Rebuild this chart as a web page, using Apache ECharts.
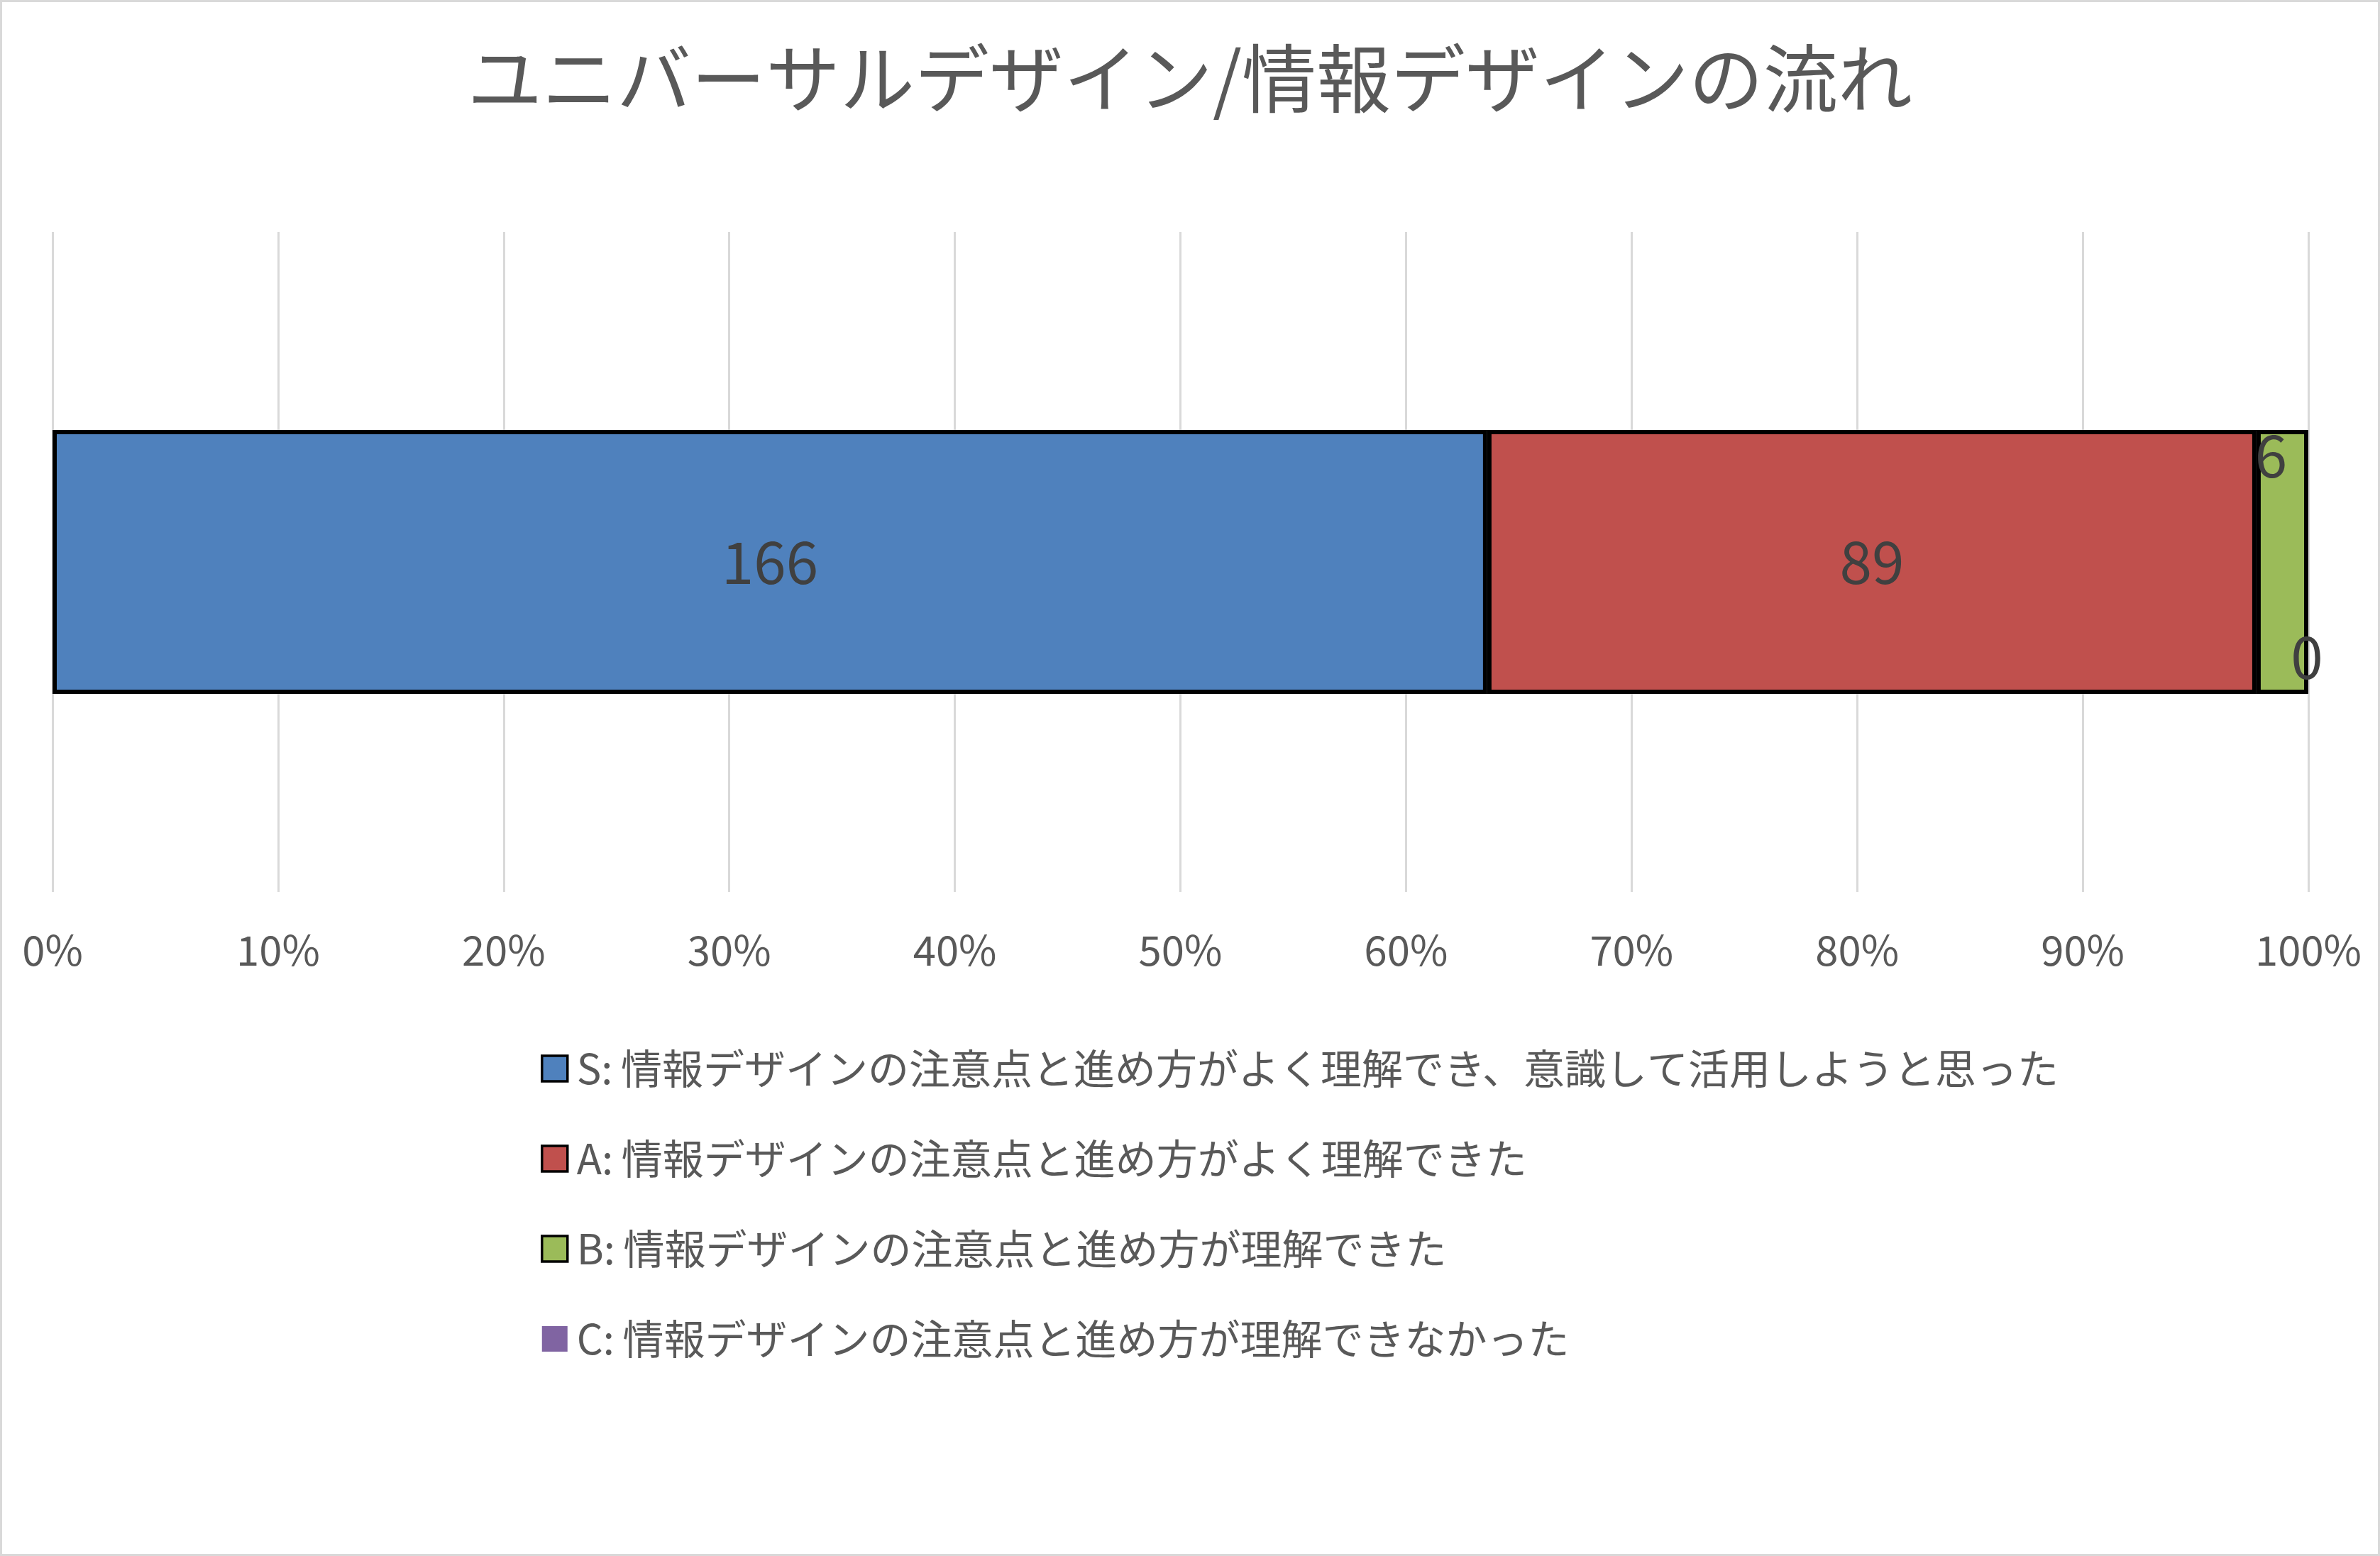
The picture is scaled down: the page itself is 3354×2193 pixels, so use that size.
<!DOCTYPE html>
<html>
<head>
<meta charset="utf-8">
<script src="https://cdn.jsdelivr.net/npm/echarts@6/dist/echarts.min.js"></script>
<style>
html,body{margin:0;padding:0;background:#fff;}
#c{width:3354px;height:2193px;}
</style>
</head>
<body>
<div id="c"></div>
<script>
const titleText = 'ユニバーサルデザイン/情報デザインの流れ';
const categories = ['回答'];
const seriesNames = [
  'S:\u2009情報デザインの注意点と進め方がよく理解でき、意識して活用しようと思った',
  'A:\u2009情報デザインの注意点と進め方がよく理解できた',
  'B:\u2009情報デザインの注意点と進め方が理解できた',
  'C:\u2009情報デザインの注意点と進め方が理解できなかった'
];
const seriesValues = [166, 89, 6, 0];
const seriesColors = ['#4f81bd', '#c0504d', '#9bbb59', '#8064a2'];
const tickLabels = ['0%','10%','20%','30%','40%','50%','60%','70%','80%','90%','100%'];
const labelOffsets = [[0, 0], [0, 0], [-16, -150], [-2, 134]];

const total = seriesValues.reduce((a, b) => a + b, 0);
const font = '"Noto Sans CJK JP", "Noto Sans", sans-serif';

const chart = echarts.init(document.getElementById('c'), null, {renderer: 'canvas'});

const series = seriesNames.map((name, i) => ({
  name: name,
  type: 'bar',
  stack: 'total',
  barWidth: '40%',
  data: [seriesValues[i] / total * 100],
  itemStyle: {
    color: seriesColors[i],
    borderColor: '#000',
    borderWidth: i === 3 ? 0 : 6
  },
  label: {
    show: true,
    position: 'inside',
    offset: labelOffsets[i],
    formatter: () => String(seriesValues[i]),
    fontSize: 82,
    fontFamily: font,
    color: '#404040'
  },
  emphasis: {disabled: true}
}));

chart.setOption({
  animation: false,
  backgroundColor: '#fff',
  graphic: [{
    type: 'rect',
    shape: {x: 1.5, y: 1.5, width: 3351, height: 2190},
    style: {fill: 'none', stroke: '#d9d9d9', lineWidth: 3},
    silent: true
  }],
  title: {
    text: titleText,
    left: 'center',
    top: 50,
    textStyle: {
      fontSize: 105,
      lineHeight: 110,
      fontWeight: 'normal',
      color: '#595959',
      fontFamily: font
    }
  },
  grid: {left: 74, right: 101, top: 327, bottom: 936, containLabel: false},
  xAxis: {
    type: 'value',
    min: 0,
    max: 100,
    interval: 10,
    axisLine: {show: false},
    axisTick: {show: false},
    splitLine: {show: true, lineStyle: {color: '#d9d9d9', width: 3}},
    axisLabel: {
      formatter: (v) => tickLabels[Math.round(v / 10)],
      fontSize: 58,
      margin: 53,
      color: '#595959',
      fontFamily: font
    }
  },
  yAxis: {
    type: 'category',
    data: categories,
    axisLine: {show: false},
    axisTick: {show: false},
    axisLabel: {show: false}
  },
  legend: {
    orient: 'vertical',
    left: 757,
    top: 1471,
    itemWidth: 36,
    itemHeight: 36,
    itemGap: 67,
    icon: 'rect',
    data: seriesNames.map((n, i) => ({
      name: n,
      itemStyle: {borderColor: '#000', borderWidth: i === 3 ? 0 : 3.5}
    })),
    textStyle: {
      fontSize: 58,
      lineHeight: 60,
      color: '#595959',
      fontFamily: font,
      padding: [0, 0, 0, 8]
    },
    selectedMode: false
  },
  series: series
});
</script>
</body>
</html>
